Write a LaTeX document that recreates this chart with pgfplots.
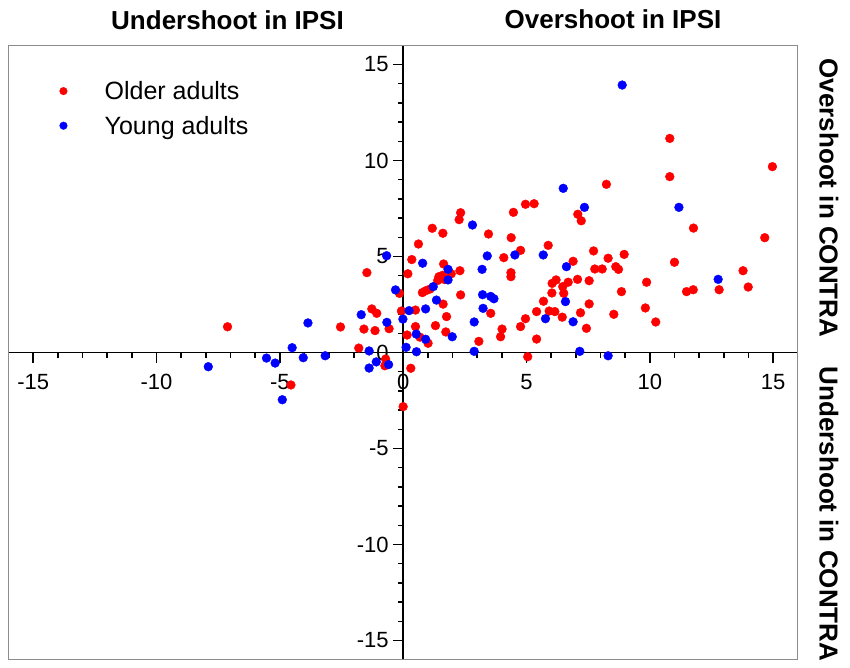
\documentclass[border=0pt]{standalone}
\usepackage{fontspec}
\setmainfont{Liberation Sans}
\usepackage{pgfplots}
\usepackage{pgfplotstable}
\pgfplotsset{compat=1.18}
\pgfplotstableread{
x y
-7.12 1.34
-4.55 -1.69
-2.54 1.33
-1.59 1.22
-1.14 1.14
-1.80 0.23
-1.47 4.16
-1.27 2.27
-1.07 2.04
-0.57 1.24
-0.71 -0.34
-0.74 -0.69
0.00 -2.82
-0.15 3.08
-0.07 2.16
0.31 -0.82
0.16 0.91
0.19 4.10
0.35 4.84
0.62 5.65
0.50 2.21
0.50 1.35
0.68 0.80
1.01 0.48
1.73 1.07
1.31 1.40
1.76 1.87
1.62 2.52
2.33 3.00
0.78 3.12
0.92 3.22
1.08 3.30
1.45 3.95
1.60 4.02
1.40 3.75
1.68 3.80
1.95 4.10
1.64 4.61
2.30 4.26
1.18 6.47
1.61 6.21
2.33 7.28
2.27 6.92
3.46 6.17
4.38 5.98
4.47 7.30
4.96 7.72
5.31 7.75
7.08 7.20
7.22 6.86
5.88 5.58
4.76 5.32
7.72 5.29
4.08 4.94
6.89 4.75
4.37 4.16
4.37 3.95
3.55 2.04
3.07 0.58
4.01 1.22
3.95 0.82
4.76 1.35
4.96 1.76
5.41 2.13
5.41 0.70
5.69 2.67
5.92 2.16
6.15 2.13
6.03 3.10
6.04 3.60
6.20 3.78
6.47 3.43
6.51 3.08
6.69 3.66
6.45 1.84
7.07 3.81
7.19 2.07
7.54 3.74
7.54 2.53
7.43 1.26
5.05 -0.22
7.77 4.35
8.07 4.35
8.24 8.76
8.31 4.91
8.96 5.11
8.62 4.47
8.73 4.33
10.81 11.15
14.97 9.68
10.81 9.16
11.77 6.48
14.66 5.98
11.00 4.70
13.78 4.26
13.99 3.41
12.81 3.27
11.49 3.17
11.76 3.27
9.87 3.66
8.85 3.17
8.54 1.99
9.82 2.32
10.24 1.59
}\older
\pgfplotstableread{
x y
-7.90 -0.74
-5.54 -0.29
-5.19 -0.55
-4.90 -2.46
-4.50 0.25
-4.05 -0.27
-3.86 1.54
-3.16 -0.17
-1.70 1.97
-1.38 0.08
-1.38 -0.81
-1.09 -0.49
-0.67 5.04
-0.66 1.57
-0.59 -0.63
-0.31 3.26
-0.01 1.74
0.12 0.27
0.24 2.18
0.53 0.96
0.54 0.04
0.91 0.69
1.99 0.82
0.79 4.65
1.82 4.33
1.82 3.78
1.22 3.43
1.35 2.73
0.91 2.27
6.49 8.55
7.35 7.56
2.81 6.64
3.41 5.03
4.53 5.08
5.68 5.08
6.62 4.47
3.20 4.33
3.22 3.01
3.55 2.92
3.68 2.80
3.24 2.30
2.88 1.59
6.58 2.65
6.89 1.60
5.77 1.76
2.88 0.06
7.16 0.06
8.31 -0.17
8.88 13.93
11.18 7.56
12.77 3.81
}\young
\begin{document}
\begin{tikzpicture}
\useasboundingbox (-8.5pt,-7.3pt) rectangle (841.5pt,659.7pt);
\begin{axis}[
  at={(0pt,0pt)}, anchor=south west,
  scale only axis, width=789.3pt, height=614.4pt,
  xmin=-16, xmax=16, ymin=-16, ymax=16,
  axis lines*=middle,
  axis line style={line width=1.8pt, black},
  xtick={-15,-10,...,15}, ytick={-15,-10,...,15},
  xticklabels={-15,-10,-5,0,5,10,15},
  yticklabels={-15,-10,-5,0,5,10,15},
  minor tick num=4,
  tick align=outside,
  major tick length=10pt, minor tick length=5pt,
  tick style={line width=1.5pt, black},
  hide obscured x ticks=false, hide obscured y ticks=false,
  ticklabel style={font=\fontsize{22}{22}\selectfont},
  xticklabel style={yshift=-8pt},
  yticklabel style={xshift=-1pt},
  clip=false,
  legend style={draw=none, fill=none, at={(0.059,0.945)}, anchor=north west,
    font=\fontsize{25}{25}\selectfont, row sep=11pt, inner sep=0pt},
  legend cell align=left,
  legend image code/.code={\path (-8pt,0pt) (39pt,0pt); \draw[#1, mark size=3.8pt] plot coordinates {(0pt,0pt)};},
]
\draw[line width=1.2pt, black!45] (rel axis cs:0,0) rectangle (rel axis cs:1,1);
\addplot[only marks, mark=*, color=red, mark size=4.4pt, mark options={draw=none}] table[x=x,y=y] {\older};
\addlegendentry{Older adults}
\addplot[only marks, mark=*, color=blue, mark size=4.4pt, mark options={draw=none}] table[x=x,y=y] {\young};
\addlegendentry{Young adults}
\end{axis}
\node[font=\fontsize{26}{26}\selectfont\bfseries] at (219pt,639.7pt) {Undershoot in IPSI};
\node[font=\fontsize{26}{26}\selectfont\bfseries] at (604.5pt,640.7pt) {Overshoot in IPSI};
\node[font=\fontsize{26}{26}\selectfont\bfseries, rotate=-90] at (820.5pt,461.7pt) {Overshoot in CONTRA};
\node[font=\fontsize{26}{26}\selectfont\bfseries, rotate=-90] at (820.5pt,145.7pt) {Undershoot in CONTRA};
\end{tikzpicture}
\end{document}
